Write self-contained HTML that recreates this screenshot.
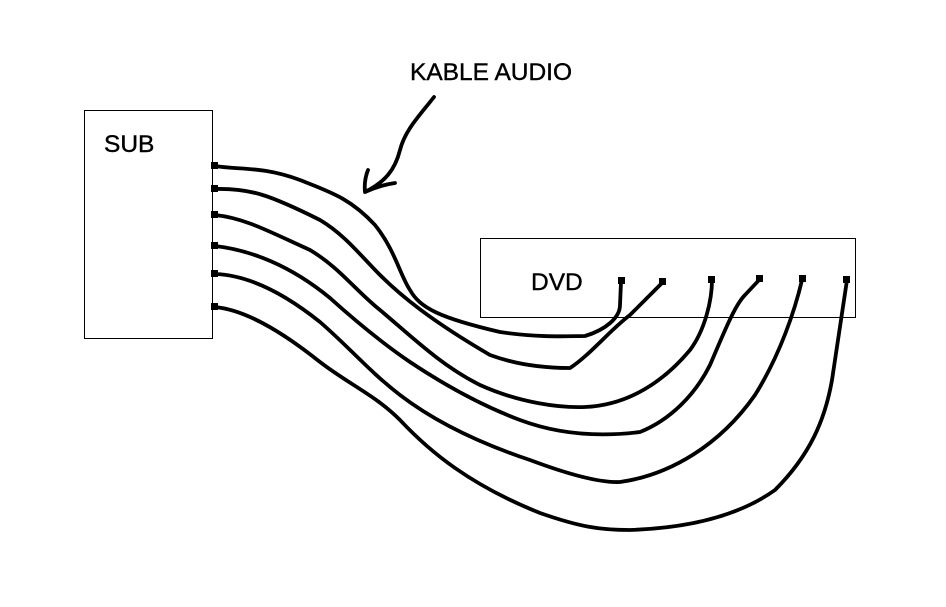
<!DOCTYPE html>
<html><head><meta charset="utf-8"><style>
html,body{margin:0;padding:0;background:#fff;}
svg{display:block;}
text{font-family:"Liberation Sans",Arial,sans-serif;font-size:24.5px;fill:#000;stroke:#000;stroke-width:0.4px;}
</style></head><body>
<svg width="946" height="607" viewBox="0 0 946 607" xmlns="http://www.w3.org/2000/svg">
<rect x="0" y="0" width="946" height="607" fill="#fff"/>
<rect x="84.5" y="110.5" width="128" height="228" fill="none" stroke="#000" stroke-width="1"/>
<rect x="480.5" y="238.5" width="375" height="79" fill="none" stroke="#000" stroke-width="1"/>
<text x="410" y="80">KABLE AUDIO</text>
<text x="104" y="152">SUB</text>
<text x="531" y="290">DVD</text>
<g fill="none" stroke="#000" stroke-width="3.8" stroke-linecap="round" stroke-linejoin="round">
<path d="M434,97 C420,115 405,130 400,150 C395,170 385,182 365,192 M365,192 C364,182 366,175 368,170 M365,192 C378,186 388,184 395,183"/>
<path d="M215,166 C240,170 262,166 300,180 C330,192 350,198 375,225 C395,250 400,275 410,290 C420,308 440,318 500,332 C540,338 570,336 585,336 C605,330 620,318 620,305 L621,282"/>
<path d="M215,189 C250,188 270,195 320,220 C345,235 360,255 380,275 C400,295 430,320 490,355 C520,366 550,368 570,368 C590,355 610,330 630,315 C645,300 655,290 663,282"/>
<path d="M215,215 C245,218 270,232 310,250 C340,268 355,290 380,310 C410,335 440,365 480,385 C520,403 560,408 585,407 C630,405 665,380 690,350 C705,330 712,300 712,280"/>
<path d="M215,246 C250,250 290,265 330,298 C360,325 385,345 410,362 C440,382 480,405 520,420 C560,435 600,437 640,432 C670,420 695,395 710,365 C725,330 735,305 745,295 L760,279"/>
<path d="M215,274 C245,275 280,290 320,322 C350,348 370,372 400,395 C430,418 470,440 530,460 C570,475 600,483 620,482 C670,475 720,445 755,395 C780,355 795,310 802,280"/>
<path d="M215,307 C245,310 280,330 320,362 C350,385 375,395 400,420 C430,452 470,485 540,513 C580,527 600,530 630,530 C690,528 740,515 775,490 C810,455 825,420 832,380 C838,340 843,305 847,280"/>
</g>
<g fill="#000">
<rect x="211" y="162" width="7" height="7"/>
<rect x="211" y="185" width="7" height="7"/>
<rect x="211" y="211" width="7" height="7"/>
<rect x="211" y="242" width="7" height="7"/>
<rect x="211" y="270" width="7" height="7"/>
<rect x="211" y="303" width="7" height="7"/>
<rect x="618" y="277" width="7" height="7"/>
<rect x="659" y="278" width="7" height="7"/>
<rect x="708" y="276" width="7" height="7"/>
<rect x="756" y="275" width="7" height="7"/>
<rect x="799" y="275" width="7" height="7"/>
<rect x="843" y="276" width="7" height="7"/>
</g>
</svg>
</body></html>
